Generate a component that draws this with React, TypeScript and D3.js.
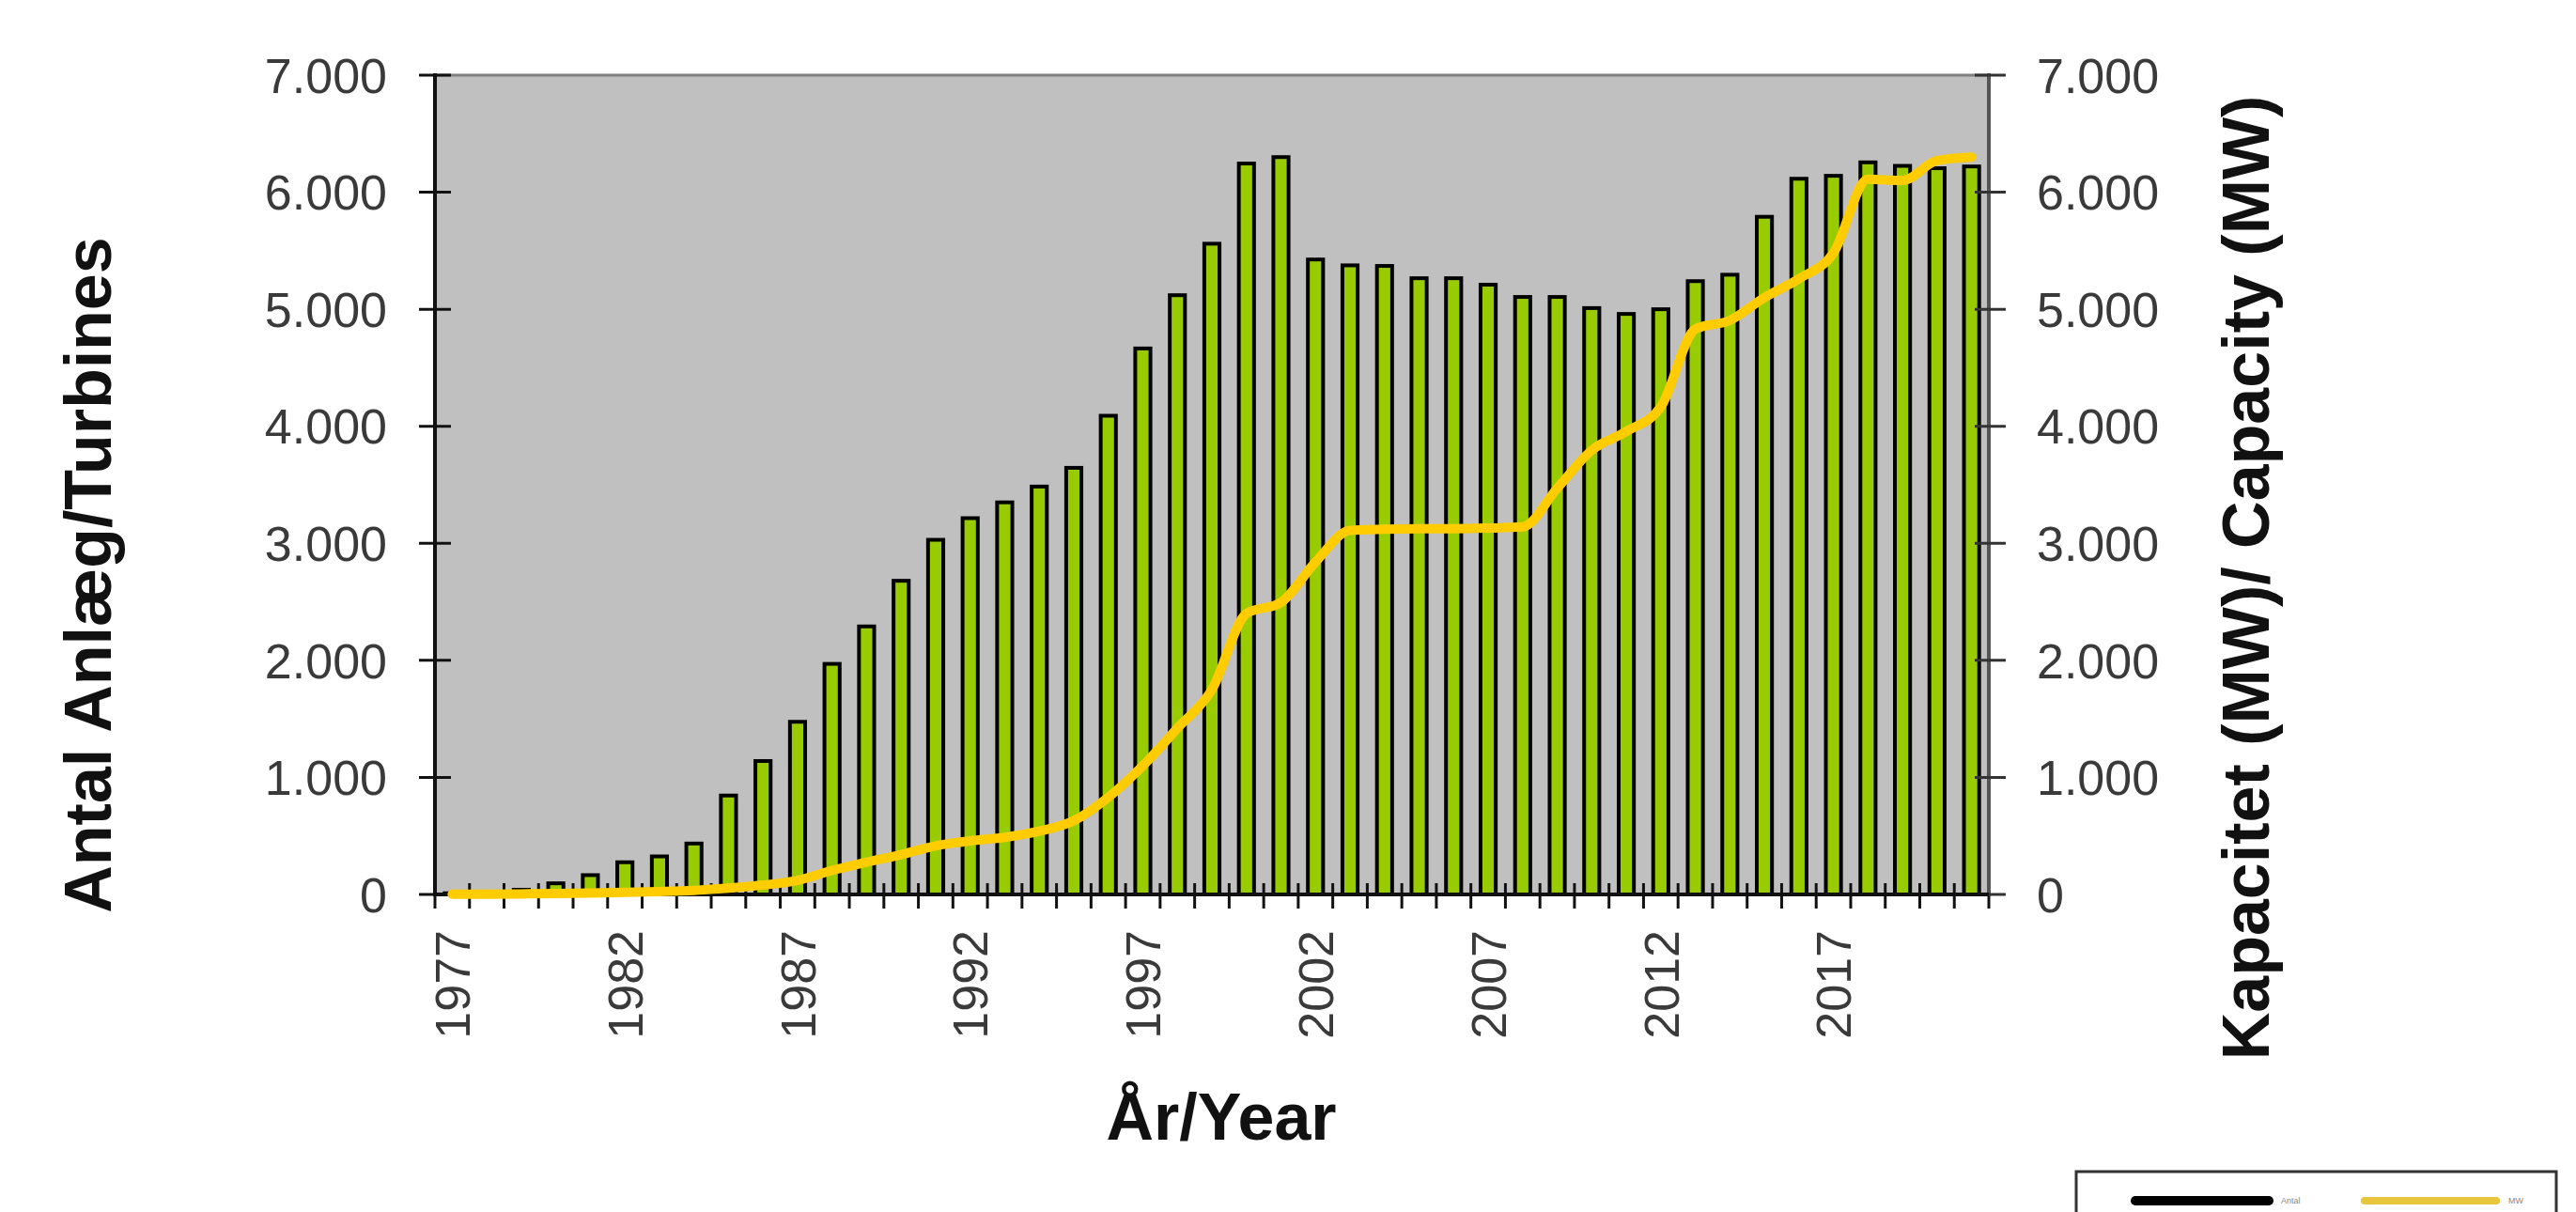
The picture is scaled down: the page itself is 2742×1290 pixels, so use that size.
import React from "react";
import * as d3 from "d3";

// years on the x axis
const years = d3.range(1977, 2022);
const yearLabels = [1977, 1982, 1987, 1992, 1997, 2002, 2007, 2012, 2017];

// antal anlæg / number of turbines (bars, left axis)
const turbines = [
   10, 20, 40, 95, 165, 275, 325, 435, 845, 1140,
   1475, 1970, 2290, 2680, 3030, 3215, 3350, 3485, 3645, 4090,
   4665, 5120, 5560, 6245, 6300, 5425, 5375, 5370, 5265, 5265,
   5210, 5105, 5105, 5010, 4960, 5000, 5240, 5295, 5790, 6115,
   6140, 6255, 6225, 6205, 6220,
];

// kapacitet MW / capacity (line, right axis)
const capacity = [
   2, 3, 5, 8, 12, 18, 25, 35, 55, 80,
   120, 205, 275, 340, 415, 458, 488, 540, 630, 830,
   1100, 1420, 1750, 2400, 2495, 2840, 3110, 3120, 3125, 3125,
   3130, 3140, 3470, 3795, 3955, 4165, 4830, 4905, 5100, 5260,
   5480, 6110, 6100, 6270, 6300,
];

const yTicks = [0, 1000, 2000, 3000, 4000, 5000, 6000, 7000];

const W = 2742;
const H = 1290;
const left = 463;
const right = 2117;
const top = 80;
const bottom = 952;

const font = "'Liberation Sans', Arial, sans-serif";
const fmt = d3.formatLocale({ decimal: ",", thousands: ".", grouping: [3], currency: ["", ""] }).format(",");

export default function App() {
   const xCat = d3.scaleBand<number>().domain(years).range([left, right]).padding(0);
   const xBar = d3.scaleBand<number>().domain(years).range([left, right]).paddingInner(0.56).paddingOuter(0.28);
   const y = d3.scaleLinear().domain([0, 7000]).range([bottom, top]);
   const yRight = d3.scaleLinear().domain([0, 7000]).range([bottom, top]);

   const cx = (yr: number) => (xCat(yr) as number) + xCat.bandwidth() / 2;

   const line = d3
      .line<number>()
      .x((_, i) => cx(years[i]))
      .y((d) => yRight(d))
      .curve(d3.curveMonotoneX);

   const boundaries = years.map((yr) => xCat(yr) as number).concat([right]);

   return (
      <svg width={W} height={H} style={{ position: "absolute", left: 0, top: 0, display: "block", background: "#fff" }} fontFamily={font}>
         {/* plot area */}
         <rect x={left} y={top} width={right - left} height={bottom - top} fill="#c0c0c0" />
         <line x1={left} x2={right} y1={top} y2={top} stroke="#808080" strokeWidth={3} />

         {/* x axis ticks */}
         {boundaries.map((bx, i) => (
            <line key={"xt" + i} x1={bx} x2={bx} y1={bottom - 12} y2={bottom + 15} stroke="#111" strokeWidth={3} />
         ))}

         {/* bars */}
         {turbines.map((v, i) => (
            <rect
               key={"b" + i}
               x={xBar(years[i])}
               y={y(v)}
               width={xBar.bandwidth()}
               height={bottom - y(v)}
               fill="#99cc00"
               stroke="#000"
               strokeWidth={4}
            />
         ))}

         {/* left axis */}
         <line x1={left} x2={left} y1={top - 2} y2={bottom + 2} stroke="#111" strokeWidth={4} />
         {yTicks.map((t) => (
            <g key={"yl" + t}>
               <line x1={left - 17} x2={left + 17} y1={y(t)} y2={y(t)} stroke="#111" strokeWidth={3} />
               <text x={412} y={y(t)} dy="0.36em" textAnchor="end" fontSize={52} fill="#3a3a3a">
                  {fmt(t)}
               </text>
            </g>
         ))}

         {/* right axis */}
         <line x1={right} x2={right} y1={top - 2} y2={bottom + 2} stroke="#555" strokeWidth={4} />
         {yTicks.map((t) => (
            <g key={"yr" + t}>
               <line x1={right - 15} x2={right + 18} y1={yRight(t)} y2={yRight(t)} stroke="#333" strokeWidth={3} />
               <text x={2168} y={yRight(t)} dy="0.36em" textAnchor="start" fontSize={52} fill="#3a3a3a">
                  {fmt(t)}
               </text>
            </g>
         ))}

         {/* x axis */}
         <line x1={left} x2={right} y1={bottom} y2={bottom} stroke="#111" strokeWidth={4} />

         {/* capacity line */}
         <path d={line(capacity) || ""} fill="none" stroke="#ffcc00" strokeWidth={10} strokeLinejoin="round" strokeLinecap="round" />

         {/* year labels */}
         {yearLabels.map((yr) => (
            <text
               key={"x" + yr}
               transform={`translate(${cx(yr)},${990}) rotate(-90)`}
               dy="0.36em"
               textAnchor="end"
               fontSize={52}
               fill="#3a3a3a"
            >
               {yr}
            </text>
         ))}

         {/* axis titles */}
         <text transform="translate(118,612) rotate(-90)" textAnchor="middle" fontSize={70} fontWeight="bold" fill="#111">
            Antal Anlæg/Turbines
         </text>
         <text transform="translate(2415,615) rotate(-90)" textAnchor="middle" fontSize={70} fontWeight="bold" fill="#111">
            Kapacitet (MW)/ Capacity (MW)
         </text>
         <text x={1300} y={1213} textAnchor="middle" fontSize={70} fontWeight="bold" fill="#111">
            År/Year
         </text>

         {/* legend */}
         <rect x={2210} y={1247} width={511} height={70} fill="#fff" stroke="#333" strokeWidth={3} />
         <line x1={2273} x2={2415} y1={1278} y2={1278} stroke="#000" strokeWidth={10} strokeLinecap="round" />
         <text x={2428} y={1281} fontSize={9} fill="#888">
            Antal
         </text>
         <line x1={2517} x2={2657} y1={1278} y2={1278} stroke="#e8c53a" strokeWidth={8} strokeLinecap="round" />
         <text x={2670} y={1281} fontSize={9} fill="#888">
            MW
         </text>
      </svg>
   );
}
